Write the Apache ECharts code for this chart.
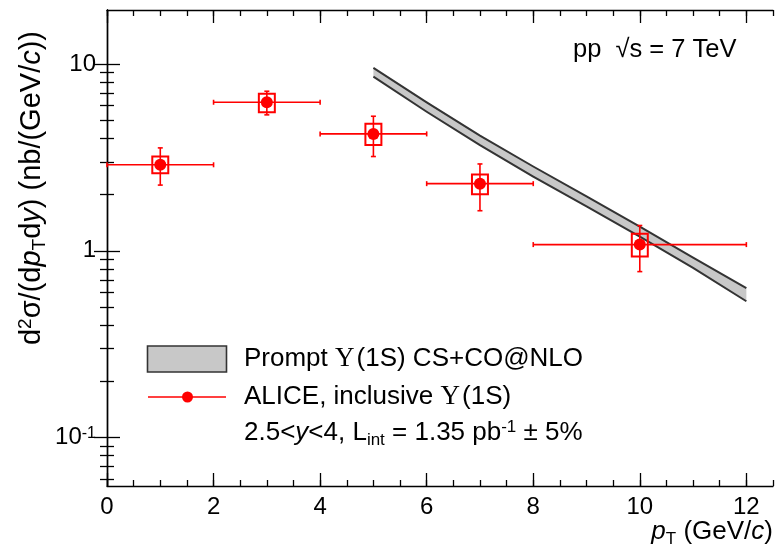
<!DOCTYPE html>
<html><head><meta charset="utf-8">
<script src="https://cdn.jsdelivr.net/npm/echarts@6/dist/echarts.min.js"></script>
<style>html,body{margin:0;padding:0;background:#fff}#c{width:783px;height:555px}</style>
</head><body><div id="c"></div>
<script>
// ---- data ----
const ptX = [1, 3, 5, 7, 10];
const ptXLow = [0, 2, 4, 6, 8];
const ptXHigh = [2, 4, 6, 8, 12];
const ptY = [2.89, 6.25, 4.23, 2.29, 1.08];
const statLow = [2.25, 5.35, 3.20, 1.64, 0.774];
const statHigh = [3.56, 7.16, 5.26, 2.92, 1.367];
const sysLow = [2.60, 5.52, 3.69, 2.01, 0.932];
const sysHigh = [3.20, 6.94, 4.80, 2.56, 1.234];

const bandX = [5, 6, 7, 8, 9, 10, 11, 12];
const bandLow = [8.57, 5.56, 3.68, 2.50, 1.73, 1.19, 0.81, 0.537];
const bandHigh = [9.56, 6.24, 4.14, 2.83, 1.96, 1.35, 0.92, 0.631];

const xTicksMajor = [0, 2, 4, 6, 8, 10, 12];
const yTicksMajor = [0.1, 1, 10];
const yTicksMinor = [0.06, 0.07, 0.08, 0.09, 0.2, 0.3, 0.4, 0.5, 0.6, 0.7, 0.8, 0.9, 2, 3, 4, 5, 6, 7, 8, 9];

// ---- styles ----
const FONT = 'Liberation Sans, Arial, Helvetica, sans-serif';
const RED = '#ff0000';
const BOX_HALF = 0.15;
const X_MIN = 0, X_MAX = 12.5, Y_MIN = 0.055, Y_MAX = 19.5;
const axisLineStyle = {color: '#000', width: 1.4};

const chart = echarts.init(document.getElementById('c'), null, {renderer: 'canvas'});

function xAxisDef(grid, pos, major, label) {
  return {
    type: 'value', gridIndex: grid, position: pos, min: X_MIN, max: X_MAX,
    interval: major ? 2 : 0.5,
    axisLine: {show: grid === 0, lineStyle: axisLineStyle},
    axisTick: major
      ? {show: true, inside: true, length: 13, customValues: xTicksMajor, lineStyle: {color: '#000', width: 1.3}}
      : {show: true, inside: true, length: 6, lineStyle: {color: '#000', width: 1.3}},
    axisLabel: label
      ? {show: true, customValues: xTicksMajor, fontSize: 24, fontFamily: FONT, color: '#000', margin: 9}
      : {show: false},
    splitLine: {show: false}
  };
}
function yAxisDef(grid, pos, major, label) {
  return {
    type: 'log', logBase: 10, gridIndex: grid, position: pos, min: Y_MIN, max: Y_MAX,
    axisLine: {show: grid === 0, lineStyle: axisLineStyle},
    axisTick: {show: true, inside: true, length: major ? 13 : 7,
      customValues: major ? yTicksMajor : yTicksMinor, lineStyle: {color: '#000', width: 1.3}},
    axisLabel: label ? {
      show: true, customValues: yTicksMajor, fontSize: 24, fontFamily: FONT, color: '#000', margin: 11,
      formatter: function (v) {
        const e = Math.round(Math.log10(v));
        return e < 0 ? '10{sup|' + e + '}' : String(Math.round(v));
      },
      rich: {sup: {fontSize: 16, fontFamily: FONT, color: '#000', verticalAlign: 'top', lineHeight: 14, padding: [0, 0, 12, 0]}}
    } : {show: false},
    splitLine: {show: false}
  };
}

function renderPoint(params, api) {
  const x = api.value(0), y = api.value(1);
  const c = api.coord([x, y]);
  const pL = api.coord([api.value(2), y]);
  const pR = api.coord([api.value(3), y]);
  const pB = api.coord([x, api.value(4)]);
  const pT = api.coord([x, api.value(5)]);
  const b1 = api.coord([x - BOX_HALF, api.value(7)]);
  const b2 = api.coord([x + BOX_HALF, api.value(6)]);
  const ls = {stroke: RED, lineWidth: 1.6};
  const cap = 2.5;
  const ln = (x1, y1, x2, y2) => ({type: 'line', shape: {x1, y1, x2, y2}, style: ls});
  return {
    type: 'group',
    children: [
      ln(pL[0], pL[1], pR[0], pR[1]),
      ln(pL[0], pL[1] - cap, pL[0], pL[1] + cap),
      ln(pR[0], pR[1] - cap, pR[0], pR[1] + cap),
      ln(pT[0], pT[1], pB[0], pB[1]),
      ln(pT[0] - cap, pT[1], pT[0] + cap, pT[1]),
      ln(pB[0] - cap, pB[1], pB[0] + cap, pB[1]),
      {type: 'rect', shape: {x: b1[0], y: b1[1], width: b2[0] - b1[0], height: b2[1] - b1[1]},
        style: {fill: 'none', stroke: RED, lineWidth: 2}},
      {type: 'circle', shape: {cx: c[0], cy: c[1], r: 6}, style: {fill: RED}}
    ]
  };
}

function renderBand(params, api) {
  if (params.dataIndex !== 0) return null;
  const n = bandX.length;
  const up = [], lo = [];
  for (let i = 0; i < n; i++) {
    up.push(api.coord([api.value(0, i), api.value(2, i)]));
    lo.push(api.coord([api.value(0, i), api.value(1, i)]));
  }
  const poly = up.concat(lo.slice().reverse());
  return {
    type: 'group',
    children: [
      {type: 'polygon', shape: {points: poly}, style: {fill: '#c8c8c8', stroke: 'none'}},
      {type: 'polyline', shape: {points: up}, style: {stroke: '#333', lineWidth: 2, fill: 'none'}},
      {type: 'polyline', shape: {points: lo}, style: {stroke: '#333', lineWidth: 2, fill: 'none'}}
    ]
  };
}

function richFor(size) {
  const s = Math.round(size * 0.66);
  return {
    i: {fontStyle: 'italic', fontFamily: FONT, fontSize: size, color: '#000'},
    sub: {fontFamily: FONT, fontSize: s, color: '#000', padding: [Math.round(size * 0.55), 0, 0, 0]},
    sup: {fontFamily: FONT, fontSize: s, color: '#000', padding: [0, 0, Math.round(size * 0.45), 0]},
    u: {fontFamily: 'Liberation Serif, serif', fontSize: size + 1, color: '#000', padding: [0, 2, 0, 0]}
  };
}

const LEG = 26;
const option = {
  animation: false,
  backgroundColor: '#fff',
  grid: [
    {left: 107, right: 10, top: 10, bottom: 69},
    {left: 107, right: 10, top: 10, bottom: 69}
  ],
  xAxis: [
    xAxisDef(0, 'bottom', true, true),
    xAxisDef(0, 'top', true, false),
    xAxisDef(1, 'bottom', false, false),
    xAxisDef(1, 'top', false, false)
  ],
  yAxis: [
    yAxisDef(0, 'left', true, true),
    yAxisDef(0, 'right', true, false),
    yAxisDef(1, 'left', false, false),
    yAxisDef(1, 'right', false, false)
  ],
  series: [
    {
      type: 'custom', name: 'Prompt Υ(1S) CS+CO@NLO', xAxisIndex: 0, yAxisIndex: 0,
      renderItem: renderBand, encode: {x: 0, y: [1, 2]},
      data: bandX.map((x, i) => [x, bandLow[i], bandHigh[i]]), z: 2
    },
    {
      type: 'custom', name: 'ALICE, inclusive Υ(1S)', xAxisIndex: 0, yAxisIndex: 0,
      renderItem: renderPoint, encode: {x: 0, y: 1},
      data: ptX.map((x, i) => [x, ptY[i], ptXLow[i], ptXHigh[i], statLow[i], statHigh[i], sysLow[i], sysHigh[i]]), z: 3
    }
  ],
  graphic: [
    // y-axis title
    {type: 'text', x: 32, y: 188, rotation: Math.PI / 2,
      style: {text: 'd{sup|2}σ/(d{i|p}{sub|T}d{i|y}) (nb/(GeV/{i|c}))', fontFamily: FONT, fontSize: 29, fill: '#000',
        align: 'center', verticalAlign: 'middle', rich: richFor(29)}},
    // x-axis title
    {type: 'text', x: 773, y: 532,
      style: {text: '{i|p}{sub|T} (GeV/{i|c})', fontFamily: FONT, fontSize: 26, fill: '#000',
        align: 'right', verticalAlign: 'middle', rich: richFor(26)}},
    // energy label
    {type: 'text', x: 573, y: 50,
      style: {text: 'pp  √s = 7 TeV', fontFamily: FONT, fontSize: 25.5, fill: '#000', align: 'left', verticalAlign: 'middle'}},
    // legend
    {type: 'rect', shape: {x: 147.5, y: 346, width: 79, height: 26}, style: {fill: '#c8c8c8', stroke: '#333', lineWidth: 1.6}},
    {type: 'line', shape: {x1: 148, y1: 397, x2: 226, y2: 397}, style: {stroke: RED, lineWidth: 1.6}},
    {type: 'circle', shape: {cx: 187.5, cy: 397, r: 5.5}, style: {fill: RED}},
    {type: 'text', x: 244, y: 359,
      style: {text: 'Prompt {u|Υ}(1S) CS+CO@NLO', fontFamily: FONT, fontSize: LEG, fill: '#000', align: 'left', verticalAlign: 'middle', rich: richFor(LEG)}},
    {type: 'text', x: 244, y: 397,
      style: {text: 'ALICE, inclusive {u|Υ}(1S)', fontFamily: FONT, fontSize: LEG, fill: '#000', align: 'left', verticalAlign: 'middle', rich: richFor(LEG)}},
    {type: 'text', x: 244, y: 433,
      style: {text: '2.5<{i|y}<4, L{sub|int} = 1.35 pb{sup|-1} ± 5%', fontFamily: FONT, fontSize: LEG, fill: '#000', align: 'left', verticalAlign: 'middle', rich: richFor(LEG)}}
  ]
};
chart.setOption(option);
</script>
</body></html>
